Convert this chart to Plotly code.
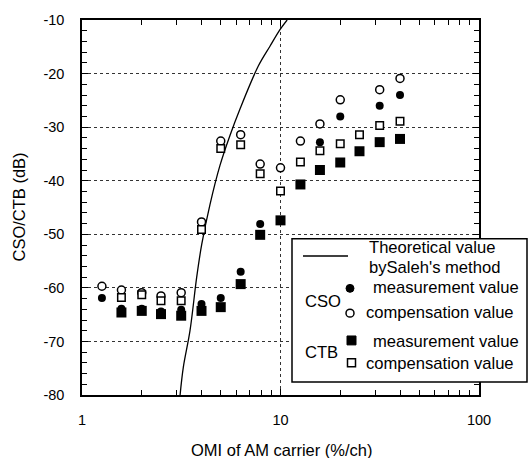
import plotly.graph_objects as go

# ---------------- data ----------------
theory_x = [3.12, 3.24, 3.50, 3.78, 4.01, 4.41, 4.96, 5.57, 6.25, 7.73, 8.85, 9.94, 10.8]
theory_y = [-80.0, -74.8, -68.0, -58.1, -51.9, -44.5, -37.1, -31.5, -26.6, -18.6, -14.9, -11.8, -10.0]

cso_meas_x = [1.26, 1.58, 2.0, 2.5, 3.16, 4.0, 5.0, 6.3, 7.9, 15.8, 20.0, 31.6, 40.0]
cso_meas_y = [-61.9, -63.9, -63.9, -64.4, -64.1, -63.0, -61.9, -57.0, -48.1, -32.8, -28.0, -26.0, -24.0]

cso_comp_x = [1.26, 1.58, 2.0, 2.5, 3.16, 4.0, 5.0, 6.3, 7.9, 10.0, 12.6, 15.8, 20.0, 31.6, 40.0]
cso_comp_y = [-59.7, -60.4, -60.9, -61.5, -60.9, -47.7, -32.6, -31.4, -36.9, -37.6, -32.6, -29.4, -24.9, -23.0, -20.9]

ctb_meas_x = [1.58, 2.0, 2.5, 3.16, 4.0, 5.0, 6.3, 7.9, 10.0, 12.6, 15.8, 20.0, 25.0, 31.6, 40.0]
ctb_meas_y = [-64.6, -64.3, -64.9, -65.2, -64.3, -63.6, -59.3, -50.1, -47.4, -40.7, -38.0, -36.6, -34.5, -32.8, -32.2]

ctb_comp_x = [1.58, 2.0, 2.5, 3.16, 4.0, 5.0, 6.3, 7.9, 10.0, 12.6, 15.8, 20.0, 25.0, 31.6, 40.0]
ctb_comp_y = [-61.8, -61.3, -62.4, -62.4, -49.1, -34.0, -33.3, -38.7, -41.9, -36.5, -34.4, -33.1, -31.4, -29.7, -28.9]

x_tickvals = [1, 10, 100]
x_ticktext = ["1", "10", "100"]
x_minor = [2, 3, 4, 5, 6, 7, 8, 9, 20, 30, 40, 50, 60, 70, 80, 90]
y_tickvals = [-10, -20, -30, -40, -50, -60, -70, -80]
y_ticktext = ["-10", "-20", "-30", "-40", "-50", "-60", "-70", "-80"]

legend_texts = ["Theoretical value", "bySaleh's method", "measurement value",
                "compensation value", "measurement value", "compensation value"]
group_labels = ["CSO", "CTB"]

# ---------------- figure ----------------
W, H = 528, 458
L, R, T, B = 82, 479, 17, 395
FONT = "Liberation Sans, Arial, Helvetica, sans-serif"

fig = go.Figure()
fig.add_trace(go.Scatter(x=theory_x, y=theory_y, mode="lines",
                         line=dict(color="black", width=1.3), line_shape="spline",
                         showlegend=False))
fig.add_trace(go.Scatter(x=cso_meas_x, y=cso_meas_y, mode="markers",
                         marker=dict(symbol="circle", size=8, color="black",
                                     line=dict(width=0)), showlegend=False))
fig.add_trace(go.Scatter(x=cso_comp_x, y=cso_comp_y, mode="markers",
                         marker=dict(symbol="circle", size=8, color="white",
                                     line=dict(color="black", width=1.5)), showlegend=False))
fig.add_trace(go.Scatter(x=ctb_meas_x, y=ctb_meas_y, mode="markers",
                         marker=dict(symbol="square", size=10, color="black",
                                     line=dict(width=0)), showlegend=False))
fig.add_trace(go.Scatter(x=ctb_comp_x, y=ctb_comp_y, mode="markers",
                         marker=dict(symbol="square", size=7.5, color="white",
                                     line=dict(color="black", width=1.5)), showlegend=False))


def px(x):
    return (x - L) / (R - L)


def py(y):
    return (B - y) / (B - T)


shapes = []
# legend box
shapes.append(dict(type="rect", xref="paper", yref="paper",
                   x0=px(292), x1=px(527), y0=py(382), y1=py(237.5),
                   line=dict(color="black", width=1.5), fillcolor="white", layer="above"))
# legend line sample
shapes.append(dict(type="line", xref="paper", yref="paper",
                   x0=px(303), x1=px(348), y0=py(255), y1=py(255),
                   line=dict(color="black", width=1.5), layer="above"))
# legend symbols
r = 4
shapes.append(dict(type="circle", xref="paper", yref="paper",
                   x0=px(350 - r), x1=px(350 + r), y0=py(287.5 + r), y1=py(287.5 - r),
                   line=dict(color="black", width=1), fillcolor="black", layer="above"))
shapes.append(dict(type="circle", xref="paper", yref="paper",
                   x0=px(350 - r), x1=px(350 + r), y0=py(312.5 + r), y1=py(312.5 - r),
                   line=dict(color="black", width=1.5), fillcolor="white", layer="above"))
s = 4.5
shapes.append(dict(type="rect", xref="paper", yref="paper",
                   x0=px(351.5 - s), x1=px(351.5 + s), y0=py(340 + s), y1=py(340 - s),
                   line=dict(color="black", width=1), fillcolor="black", layer="above"))
s = 4
shapes.append(dict(type="rect", xref="paper", yref="paper",
                   x0=px(351.5 - s), x1=px(351.5 + s), y0=py(362.5 + s), y1=py(362.5 - s),
                   line=dict(color="black", width=1.5), fillcolor="white", layer="above"))

annotations = []
legend_pos = [(367, 246), (367, 266), (371, 287), (364, 312), (371, 341), (364, 363)]
for (xx, yy), t in zip(legend_pos, legend_texts):
    annotations.append(dict(x=px(xx), y=py(yy), xref="paper", yref="paper", text=t,
                            showarrow=False, xanchor="left", yanchor="middle",
                            font=dict(family=FONT, size=16.6, color="black")))
for (xx, yy), t in zip([(303, 301), (303, 352)], group_labels):
    annotations.append(dict(x=px(xx), y=py(yy), xref="paper", yref="paper", text=t,
                            showarrow=False, xanchor="left", yanchor="middle",
                            font=dict(family=FONT, size=16.6, color="black")))
# axis titles
annotations.append(dict(x=px(282), y=py(450), xref="paper", yref="paper",
                        text="OMI of AM carrier (%/ch)", showarrow=False,
                        xanchor="center", yanchor="middle",
                        font=dict(family=FONT, size=16.5, color="black")))
annotations.append(dict(x=px(18), y=py(206), xref="paper", yref="paper",
                        text="CSO/CTB (dB)", showarrow=False, textangle=-90,
                        xanchor="center", yanchor="middle",
                        font=dict(family=FONT, size=16.5, color="black")))

fig.update_layout(
    width=W, height=H,
    margin=dict(l=L, r=W - R, t=T, b=H - B, pad=0),
    paper_bgcolor="white", plot_bgcolor="white",
    font=dict(family=FONT, size=14, color="black"),
    shapes=shapes, annotations=annotations,
    showlegend=False,
)
fig.update_xaxes(type="log", range=[0, 2], tickvals=x_tickvals, ticktext=x_ticktext,
                 showline=True, linecolor="black", linewidth=1.5, mirror="ticks",
                 ticks="inside", ticklen=6, tickwidth=1, tickcolor="black",
                 ticklabelstandoff=11,
                 showgrid=True, gridcolor="#333", griddash="dot", gridwidth=1,
                 zeroline=False,
                 minor=dict(tickvals=x_minor, ticks="inside", ticklen=5, tickwidth=1,
                            tickcolor="black", showgrid=False),
                 tickfont=dict(family=FONT, size=14.5, color="black"))
fig.update_yaxes(range=[-80, -10], tickvals=y_tickvals, ticktext=y_ticktext,
                 showline=True, linecolor="black", linewidth=1.5, mirror="ticks",
                 ticks="inside", ticklen=6, tickwidth=1, tickcolor="black",
                 ticklabelstandoff=13,
                 showgrid=True, gridcolor="#333", griddash="dot", gridwidth=1,
                 zeroline=False,
                 minor=dict(dtick=2, ticks="inside", ticklen=5, tickwidth=1,
                            tickcolor="black", showgrid=False),
                 tickfont=dict(family=FONT, size=14.5, color="black"))

fig.write_html("out.html")
